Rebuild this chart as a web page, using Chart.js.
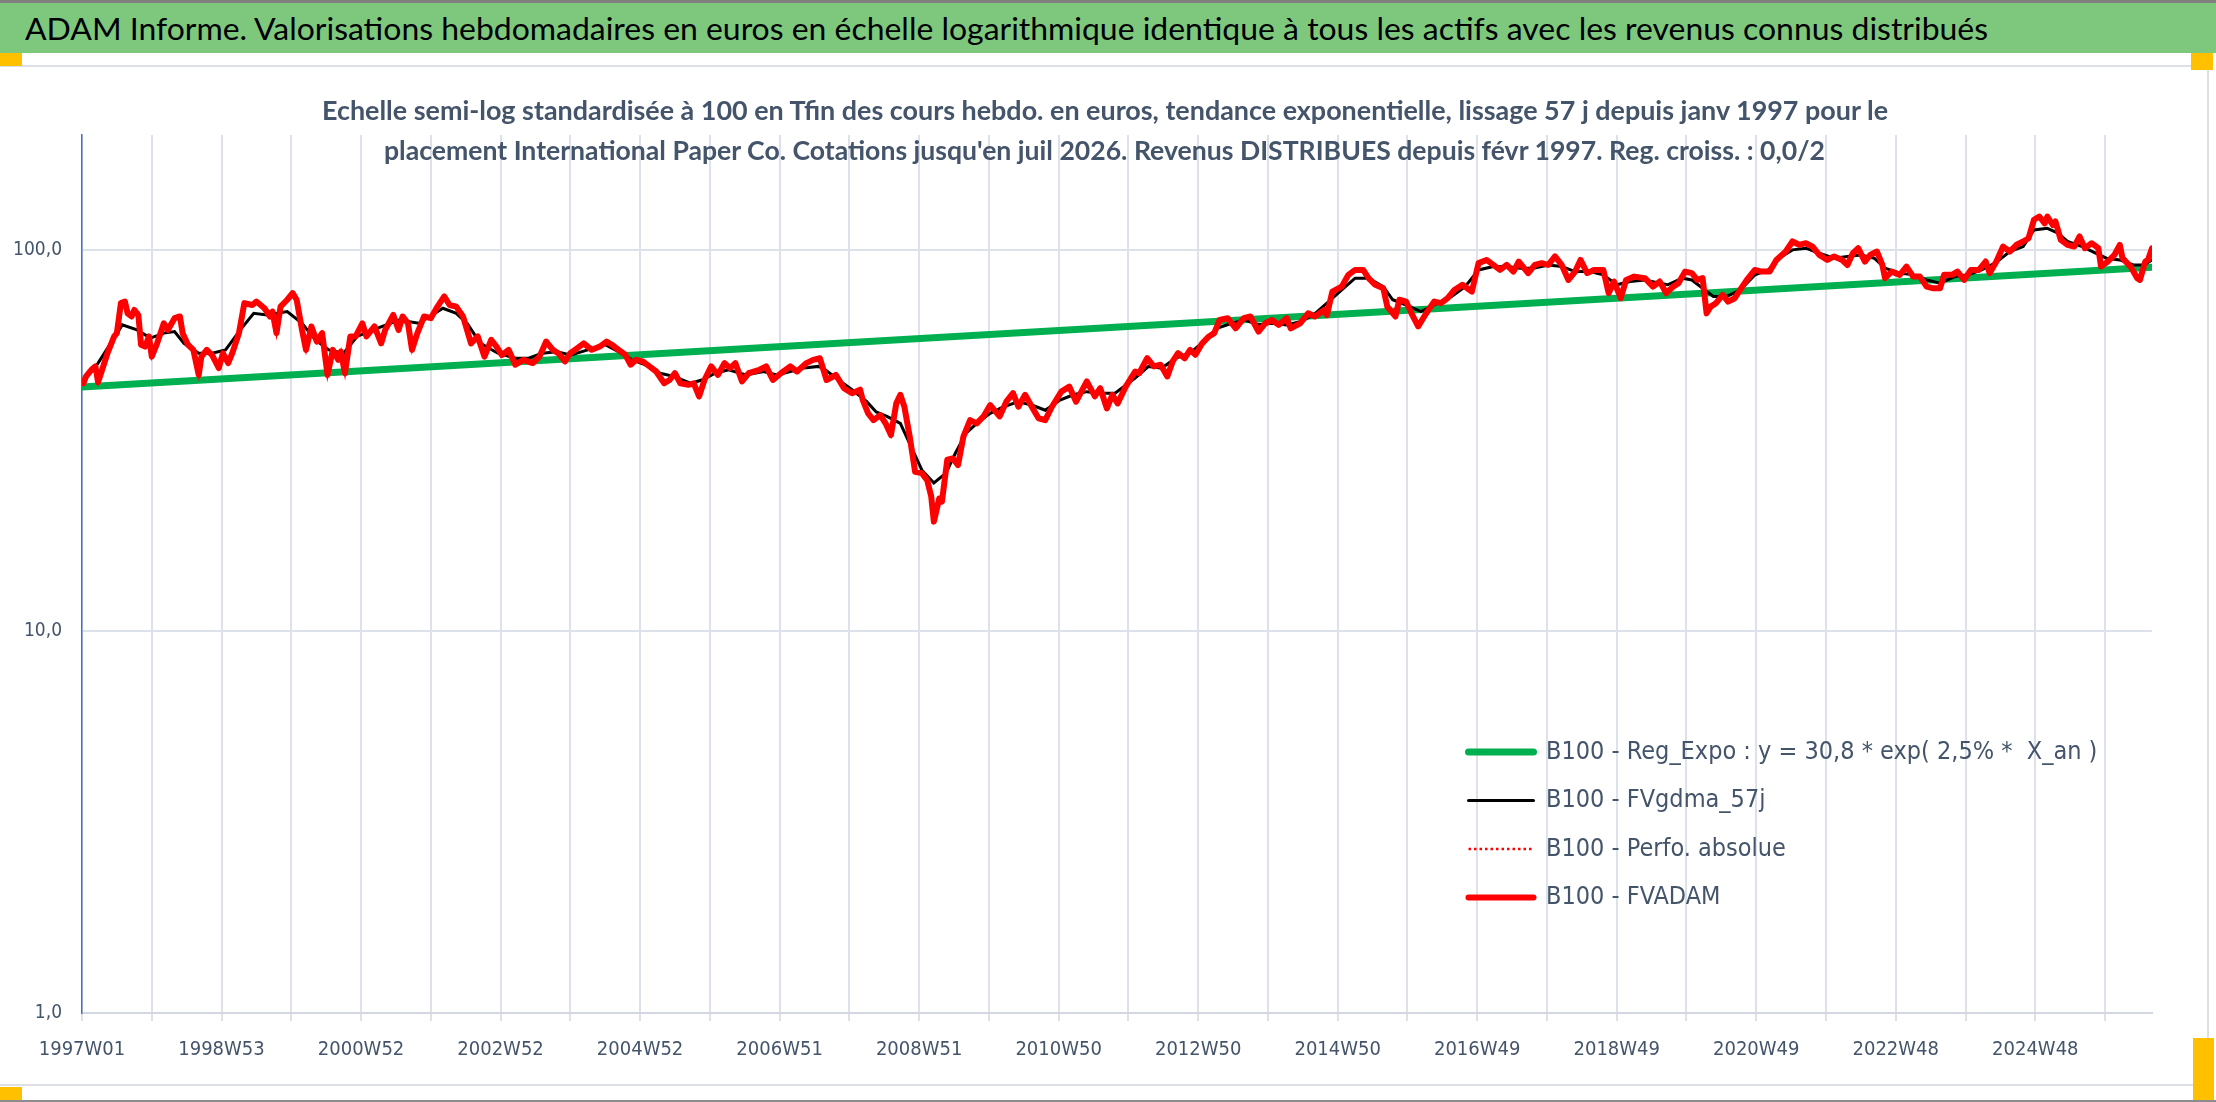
<!DOCTYPE html>
<html lang="fr">
<head>
<meta charset="utf-8">
<title>ADAM Informe - International Paper Co.</title>
<script src="https://cdn.jsdelivr.net/npm/chart.js@4.4.1/dist/chart.umd.min.js"></script>
<style>
  html, body { margin: 0; padding: 0; background: #fff; }
  body { width: 2216px; height: 1102px; position: relative; overflow: hidden; font-family: Lato, 'DejaVu Sans', sans-serif; }
  #wrap { position: absolute; left: 0; top: 0; width: 2216px; height: 1102px; }
  .line { position: absolute; z-index: 2; }
  #banner { position: absolute; left: 0; top: 3px; width: 2216px; height: 50px; background: #7ec87e; z-index: 2; }
  .fit { position: absolute; white-space: nowrap; transform-origin: 0 50%; z-index: 3; }
  #title { left: 25px; top: 10px; color: #000; font-size: 31px; line-height: 36px; }
  .sub { color: #44546a; font-size: 27px; font-weight: bold; line-height: 32.4px; }
  .handle { position: absolute; background: #ffc000; z-index: 4; }
</style>
</head>
<body>
<div class="line" style="left:0;top:0;width:2216px;height:3px;background:#7f7f7f"></div>
<div id="banner"></div>
<span id="title" class="fit" data-w="1963">ADAM Informe. Valorisations hebdomadaires en euros en échelle logarithmique identique à tous les actifs avec les revenus connus distribués</span>
<div class="line" style="left:0;top:65px;width:2208px;height:2px;background:#dcdfe4"></div>
<div class="line" style="left:2207px;top:65px;width:2px;height:1021px;background:#dcdfe4"></div>
<div class="line" style="left:0;top:1084px;width:2208px;height:2px;background:#dcdfe4"></div>
<div class="line" style="left:0;top:1100px;width:2216px;height:2px;background:#8c8c8c"></div>
<span class="fit sub" data-w="1566" style="left:322px;top:94px">Echelle semi-log standardisée à 100 en Tfin des cours hebdo. en euros, tendance exponentielle, lissage 57 j depuis janv 1997 pour le</span>
<span class="fit sub" data-w="1441" style="left:384px;top:134px">placement International Paper Co. Cotations jusqu'en juil 2026. Revenus DISTRIBUES depuis févr 1997. Reg. croiss. : 0,0/2</span>
<div class="handle" style="left:0;top:53px;width:22px;height:13px"></div>
<div class="handle" style="left:2191px;top:53px;width:22px;height:17px"></div>
<div class="handle" style="left:0;top:1087px;width:22px;height:13px"></div>
<div class="handle" style="left:2193px;top:1038px;width:21px;height:62px"></div>
<div id="wrap"><canvas id="chart"></canvas></div>

<script>
// x = weeks since 1997W01, y = base 100 value
const xTickLabels = ['1997W01', '1998W53', '2000W52', '2002W52', '2004W52', '2006W51', '2008W51', '2010W50',
  '2012W50', '2014W50', '2016W49', '2018W49', '2020W49', '2022W48', '2024W48'];
const yTickValues = [1, 10, 100];
const yTickLabels = ['1,0', '10,0', '100,0'];
const lastWeek = 1543;

const trendPoints = [[0, 43.7], [1543, 90.1]];

const smoothPoints = [
  [0, 44.7], [12, 50.5], [23, 58.1], [30, 63.6], [41, 61.7], [51, 58.7], [61, 60.5], [69, 61.1], [76, 56.9],
  [87, 53.6], [97, 53.6], [107, 54.7], [118, 61.7], [128, 68.2], [138, 67.5], [153, 68.9], [164, 64.2],
  [174, 58.1], [184, 54.7], [195, 53.6], [205, 59.3], [220, 62.3], [236, 65.5], [251, 64.2], [261, 67.5],
  [269, 70.3], [279, 68.2], [287, 64.2], [297, 56.9], [310, 53.6], [323, 52.0], [333, 52.0], [343, 53.6],
  [354, 54.1], [364, 53.0], [377, 54.7], [390, 56.4], [400, 54.1], [410, 51.5], [420, 50.0], [431, 47.5],
  [441, 46.6], [454, 44.7], [462, 45.6], [472, 47.5], [482, 48.5], [495, 47.0], [508, 48.0], [518, 47.0],
  [528, 48.0], [538, 49.0], [549, 49.5], [554, 48.5], [564, 45.6], [574, 43.0], [585, 40.0], [592, 37.6],
  [600, 36.6], [610, 35.1], [618, 30.5], [626, 26.5], [635, 24.5], [644, 26.0], [651, 29.3], [659, 33.1],
  [667, 35.1], [677, 37.3], [687, 38.8], [698, 40.0], [708, 39.2], [718, 38.0], [729, 40.4], [739, 41.7],
  [749, 42.5], [759, 42.1], [770, 42.1], [785, 46.1], [795, 49.5], [805, 49.0], [815, 52.0], [826, 53.6],
  [836, 57.5], [846, 62.3], [857, 64.2], [867, 65.5], [877, 63.6], [887, 64.2], [898, 63.6], [908, 64.8],
  [918, 67.5], [928, 72.5], [939, 78.5], [949, 84.3], [959, 84.3], [970, 80.1], [977, 74.0], [987, 71.7],
  [998, 68.9], [1008, 71.7], [1021, 75.5], [1031, 80.1], [1041, 88.6], [1052, 90.4], [1062, 90.4],
  [1072, 89.5], [1082, 89.5], [1093, 91.3], [1103, 90.4], [1113, 87.7], [1124, 87.7], [1134, 86.0],
  [1144, 81.0], [1154, 82.6], [1165, 83.4], [1176, 81.8], [1182, 81.0], [1193, 84.3], [1200, 83.4],
  [1208, 79.3], [1216, 75.5], [1226, 75.5], [1236, 78.5], [1247, 86.0], [1257, 88.6], [1267, 96.1],
  [1275, 100.0], [1285, 101.0], [1295, 98.0], [1306, 95.1], [1316, 96.1], [1326, 97.0], [1336, 95.1],
  [1344, 89.5], [1355, 86.9], [1365, 86.0], [1375, 83.4], [1385, 81.8], [1396, 85.1], [1406, 86.0],
  [1416, 88.6], [1426, 92.3], [1437, 99.0], [1447, 102.0], [1455, 112.8], [1465, 113.9], [1473, 110.6],
  [1480, 105.2], [1491, 102.0], [1501, 98.0], [1509, 95.1], [1519, 94.1], [1529, 91.3], [1537, 91.3],
  [1543, 94.1]
];

const adamPoints = [
  [0, 44.8], [1, 44.7], [3, 46.6], [7, 48.5], [10, 49.5], [12, 45.0], [15, 48.5], [19, 53.6], [24, 59.3],
  [26, 60.5], [29, 72.5], [32, 73.2], [34, 68.2], [37, 66.9], [39, 69.6], [42, 67.5], [44, 56.4], [47, 55.8],
  [50, 59.3], [52, 52.5], [56, 56.9], [61, 64.2], [64, 61.7], [69, 66.2], [73, 66.9], [75, 60.5], [79, 56.4],
  [83, 54.7], [87, 47.0], [89, 52.5], [93, 54.7], [97, 53.0], [102, 49.0], [105, 53.6], [109, 50.5],
  [112, 53.6], [117, 60.5], [121, 72.5], [127, 71.7], [130, 73.2], [136, 70.3], [140, 66.9], [142, 68.9],
  [145, 60.5], [148, 71.0], [153, 74.0], [157, 77.0], [160, 74.0], [164, 61.7], [167, 54.7], [171, 63.0],
  [175, 57.5], [179, 60.5], [183, 47.0], [187, 54.7], [191, 51.5], [193, 54.1], [196, 47.5], [200, 59.3],
  [204, 59.3], [209, 64.2], [212, 59.3], [218, 63.0], [223, 56.9], [226, 61.7], [232, 67.5], [236, 61.7],
  [239, 66.9], [243, 64.2], [246, 54.7], [250, 60.5], [255, 66.9], [260, 66.2], [265, 71.0], [270, 75.5],
  [274, 71.7], [279, 71.0], [284, 66.9], [290, 56.9], [295, 59.3], [300, 52.5], [305, 58.1], [309, 55.8],
  [313, 53.0], [318, 54.7], [323, 50.0], [329, 51.5], [336, 50.5], [341, 52.5], [346, 57.5], [351, 54.7],
  [355, 53.6], [360, 51.0], [364, 53.6], [369, 55.2], [374, 56.9], [380, 54.7], [386, 55.8],
  [391, 57.5], [395, 56.4], [400, 54.7], [405, 53.1], [409, 50.0], [413, 51.5], [418, 51.0], [423, 49.5],
  [428, 48.0], [434, 44.7], [438, 45.6], [442, 47.5], [446, 44.7], [452, 44.3], [456, 44.7], [460, 41.3],
  [464, 45.6], [469, 49.5], [474, 47.0], [479, 50.5], [483, 49.0], [487, 50.5], [492, 45.2], [497, 47.5],
  [505, 48.5], [510, 49.5], [515, 45.6], [521, 47.5], [528, 49.5], [533, 48.0], [540, 50.5], [545, 51.5],
  [550, 52.0], [555, 45.6], [562, 47.0], [568, 43.4], [574, 42.1], [580, 43.0], [582, 40.4], [586, 37.3],
  [590, 35.8], [595, 36.9], [599, 35.1], [603, 32.7], [607, 39.6], [610, 41.7], [613, 38.8], [617, 32.4],
  [621, 26.2], [626, 26.0], [630, 24.9], [633, 22.6], [635, 19.4], [639, 22.3], [641, 21.9], [645, 28.2],
  [649, 28.4], [653, 27.3], [657, 32.4], [662, 35.8], [667, 35.1], [672, 36.6], [677, 39.2], [684, 36.6],
  [689, 40.0], [694, 42.1], [698, 38.8], [703, 41.7], [708, 38.8], [713, 36.2], [718, 35.8], [723, 38.8],
  [730, 42.5], [736, 43.8], [741, 40.0], [749, 45.2], [755, 41.3], [759, 43.4], [764, 38.4], [768, 41.7],
  [772, 39.6], [778, 43.8], [785, 48.0], [788, 47.5], [794, 52.0], [799, 49.5], [804, 50.0], [809, 46.6],
  [813, 51.0], [817, 53.6], [822, 52.0], [826, 54.7], [830, 53.1], [835, 56.9], [840, 59.3], [844, 60.5],
  [848, 65.5], [854, 66.2], [860, 62.3], [866, 66.2], [871, 66.9], [877, 61.1], [882, 64.2], [887, 65.5],
  [892, 63.6], [898, 66.2], [901, 62.3], [908, 64.2], [914, 68.2], [919, 66.9], [926, 69.6], [928, 67.5],
  [932, 77.7], [939, 80.1], [944, 86.0], [949, 88.6], [955, 88.6], [959, 84.3], [964, 81.0], [970, 79.3],
  [973, 71.0], [979, 66.9], [982, 74.0], [987, 73.2], [991, 68.2], [996, 63.0], [1002, 68.2], [1008, 73.2],
  [1013, 72.5], [1018, 74.7], [1023, 78.5], [1029, 81.0], [1036, 77.7], [1041, 92.3], [1047, 94.1],
  [1052, 91.3], [1057, 88.6], [1062, 91.3], [1067, 87.7], [1071, 93.2], [1078, 86.9], [1083, 91.3],
  [1088, 92.3], [1093, 91.3], [1098, 96.1], [1103, 91.3], [1108, 83.4], [1113, 87.7], [1117, 94.1],
  [1122, 86.9], [1127, 88.6], [1134, 88.6], [1138, 77.0], [1142, 82.6], [1147, 74.7], [1151, 83.4],
  [1157, 85.1], [1165, 84.3], [1171, 80.1], [1176, 82.6], [1181, 77.0], [1186, 80.1], [1190, 81.8],
  [1195, 87.7], [1200, 86.9], [1204, 83.4], [1208, 84.3], [1211, 68.2], [1214, 71.0], [1218, 72.5],
  [1223, 76.2], [1227, 73.2], [1232, 74.7], [1236, 78.5], [1241, 83.4], [1247, 88.6], [1252, 87.7],
  [1258, 87.7], [1263, 94.1], [1270, 99.0], [1275, 105.2], [1280, 103.1], [1285, 104.1], [1290, 102.0],
  [1295, 97.0], [1301, 94.1], [1306, 96.1], [1312, 94.1], [1316, 91.3], [1320, 98.0], [1324, 101.0],
  [1329, 93.2], [1333, 97.0], [1338, 99.0], [1342, 91.3], [1344, 84.3], [1349, 87.7], [1355, 86.0],
  [1360, 90.4], [1365, 85.1], [1370, 85.1], [1375, 80.1], [1380, 79.3], [1385, 79.3], [1388, 86.0],
  [1394, 86.0], [1398, 87.7], [1403, 83.4], [1408, 88.6], [1414, 88.6], [1419, 93.2], [1422, 86.9],
  [1427, 93.2], [1432, 102.0], [1437, 99.0], [1442, 103.1], [1447, 105.2], [1451, 107.3], [1455, 119.9],
  [1459, 122.3], [1463, 117.4], [1465, 122.3], [1469, 116.2], [1471, 118.7], [1475, 106.2], [1480, 103.1],
  [1485, 102.0], [1489, 108.4], [1493, 101.0], [1498, 104.1], [1503, 101.0], [1505, 90.4], [1510, 93.2],
  [1515, 97.0], [1519, 103.1], [1521, 95.1], [1527, 90.4], [1532, 84.3], [1534, 83.4], [1538, 93.2],
  [1540, 94.1], [1543, 101.0]
];

// stretch the header lines to the widths seen in the original
document.querySelectorAll('.fit').forEach(el => {
  const w = el.getBoundingClientRect().width;
  el.style.transform = 'scaleX(' + (Number(el.dataset.w) / w) + ')';
});

const toXY = pts => pts.map(p => ({ x: p[0], y: p[1] }));
const textColor = '#44546a';
const gridColor = '#dde2ea';
const fontFamily = "'DejaVu Sans Condensed', 'DejaVu Sans', sans-serif";

// put the legend inside the plot, lower right
const legendPlacer = {
  id: 'legendPlacer',
  afterLayout(chart) {
    const lg = chart.legend;
    const w = lg.width, h = lg.height;
    lg.left = 1445; lg.top = 716;
    lg.right = lg.left + w; lg.bottom = lg.top + h;
  }
};

let ctx = document.getElementById('chart').getContext('2d');
new Chart(ctx, {
  type: 'line',
  data: {
    datasets: [{
      label: 'B100 - Reg_Expo : y = 30,8 * exp( 2,5% *  X_an )',
      data: toXY(trendPoints),
      borderColor: '#00b050',
      backgroundColor: '#00b050',
      borderWidth: 7,
      borderCapStyle: 'round',
      order: 3
    }, {
      label: 'B100 - FVgdma_57j',
      data: toXY(smoothPoints),
      borderColor: '#000000',
      backgroundColor: '#000000',
      borderWidth: 3,
      borderCapStyle: 'round',
      order: 2
    }, {
      label: 'B100 - Perfo. absolue',
      data: toXY(adamPoints),
      borderColor: '#ff0000',
      backgroundColor: '#ff0000',
      borderWidth: 2.5,
      borderDash: [2.5, 3],
      order: 1
    }, {
      label: 'B100 - FVADAM',
      data: toXY(adamPoints),
      borderColor: '#ff0000',
      backgroundColor: '#ff0000',
      borderWidth: 6,
      borderCapStyle: 'round',
      borderJoinStyle: 'round',
      order: 0
    }]
  },
  options: {
    responsive: true,
    maintainAspectRatio: false,
    animation: false,
    elements: { point: { radius: 0 }, line: { tension: 0 } },
    layout: { padding: { top: 135, right: 64, bottom: 0, left: 0 } },
    plugins: {
      tooltip: { enabled: false },
      legend: {
        position: 'chartArea',
        align: 'start',
        labels: {
          usePointStyle: true,
          pointStyle: 'line',
          pointStyleWidth: 65,
          padding: 23.5,
          color: textColor,
          font: { family: fontFamily, size: 25 },
          generateLabels: chart => {
            const items = Chart.defaults.plugins.legend.labels.generateLabels(chart);
            items.forEach(it => {
              const ds = chart.data.datasets[it.datasetIndex];
              it.lineDash = ds.borderDash || [];
              it.lineCap = ds.borderCapStyle || 'butt';
              it.lineWidth = ds.borderWidth;
            });
            return items.sort((a, b) => a.datasetIndex - b.datasetIndex);
          }
        }
      }
    },
    scales: {
      x: {
        type: 'linear',
        min: 0,
        max: lastWeek,
        afterBuildTicks: axis => {
          const t = [];
          for (let w = 0; w <= lastWeek; w += 52) t.push({ value: w });
          axis.ticks = t;
        },
        afterFit: axis => { axis.height = 89; },
        border: { color: '#d3d8e0', width: 2 },
        grid: { color: gridColor, lineWidth: 2, tickLength: 8 },
        ticks: {
          autoSkip: false,
          maxRotation: 0,
          padding: 17,
          color: textColor,
          font: { family: fontFamily, size: 20 },
          callback: (v, i) => (i % 2 === 0 ? xTickLabels[i / 2] : '')
        }
      },
      y: {
        type: 'logarithmic',
        min: 1,
        max: 200,
        afterBuildTicks: axis => { axis.ticks = yTickValues.map(v => ({ value: v })); },
        afterFit: axis => { axis.width = 82; },
        border: { color: '#4472c4', width: 1.5 },
        grid: { color: gridColor, lineWidth: 2, drawTicks: false },
        ticks: {
          padding: 20,
          color: textColor,
          font: { family: fontFamily, size: 19 },
          callback: (v, i) => yTickLabels[i]
        }
      }
    }
  },
  plugins: [legendPlacer]
});
</script>
</body>
</html>
